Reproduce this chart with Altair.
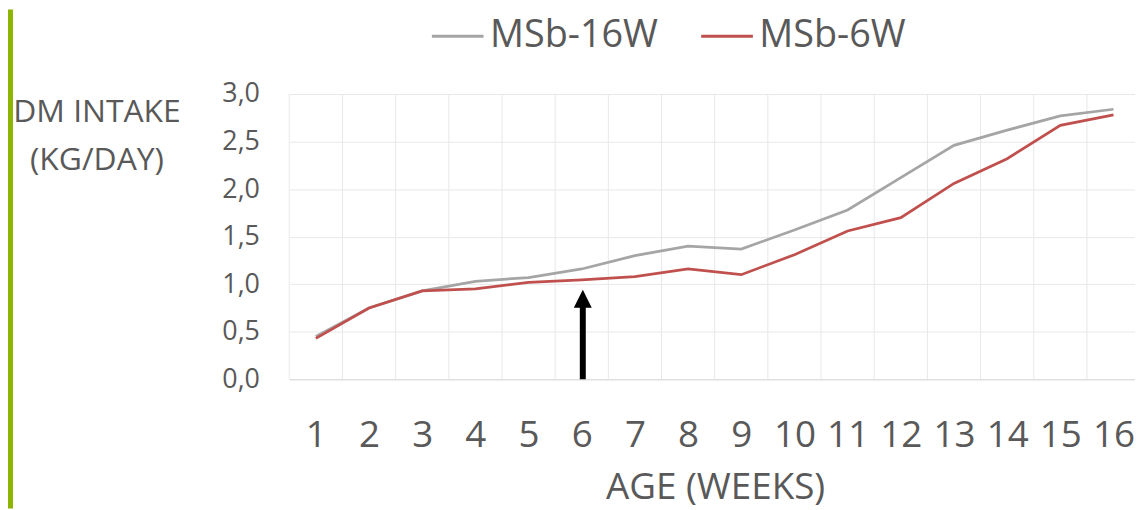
import altair as alt
import pandas as pd

# ---- data ----
weeks = list(range(1, 17))
msb_16w = [0.45, 0.75, 0.93, 1.03, 1.07, 1.16, 1.30, 1.40, 1.37, 1.57, 1.78, 2.12, 2.46, 2.62, 2.77, 2.84]
msb_6w = [0.43, 0.75, 0.93, 0.95, 1.02, 1.045, 1.08, 1.16, 1.10, 1.31, 1.56, 1.70, 2.06, 2.32, 2.67, 2.78]
series_names = ["MSb-16W", "MSb-6W"]
series_colors = ["#A5A5A5", "#C0504D"]
y_ticks = [0, 0.5, 1.0, 1.5, 2.0, 2.5, 3.0]
band_edges = [w - 0.5 for w in weeks]  # category boundaries (vertical gridlines)
arrow_week = [6.02]
arrow_base = [0.0]
arrow_shaft_top = [0.80]
arrow_head_mid = [0.846]

TEXT = "#595959"
GRID = "#e8e8e8"

rows = []
for name, vals in zip(series_names, [msb_16w, msb_6w]):
    for w, v in zip(weeks, vals):
        rows.append({"week": w, "value": v, "series": name})
df = pd.DataFrame(rows)

x_scale = alt.Scale(domain=[0.5, 16.404], nice=False, zero=False)
y_scale = alt.Scale(domain=[0, 3], nice=False)

grid = alt.Chart(pd.DataFrame({"gx": band_edges})).mark_rule(
    color=GRID, strokeWidth=1
).encode(x=alt.X("gx:Q", scale=x_scale))

lines = alt.Chart(df).mark_line(strokeWidth=2.75).encode(
    x=alt.X(
        "week:Q",
        scale=x_scale,
        axis=alt.Axis(
            values=weeks,
            grid=False,
            ticks=False,
            domainColor="#d9d9d9",
            labelFontSize=37,
            labelColor=TEXT,
            labelPadding=39,
            labelFlush=False,
            labelOverlap=False,
            title="AGE (WEEKS)",
            titleFontSize=37,
            titleFontWeight="normal",
            titleColor=TEXT,
            titleX=428.5,
            titleY=120,
            titleAlign="center",
            titleBaseline="alphabetic",
        ),
    ),
    y=alt.Y(
        "value:Q",
        scale=y_scale,
        axis=alt.Axis(
            values=y_ticks,
            labelExpr="replace(format(datum.value, '.1f'), '.', ',')",
            grid=True,
            gridColor=GRID,
            ticks=False,
            domain=False,
            labelFontSize=27,
            labelColor=TEXT,
            labelPadding=30,
            title=["DM INTAKE", "(KG/DAY)"],
            titleAngle=0,
            titleFontSize=32,
            titleFontWeight="normal",
            titleColor=TEXT,
            titleX=-194,
            titleY=18,
            titleAlign="center",
            titleBaseline="middle",
            titleLineHeight=47.5,
        ),
    ),
    color=alt.Color(
        "series:N",
        scale=alt.Scale(domain=series_names, range=series_colors),
        legend=alt.Legend(
            orient="none",
            legendX=142,
            legendY=-86,
            direction="horizontal",
            title=None,
            symbolType="stroke",
            symbolSize=2704,
            symbolStrokeWidth=3,
            labelFontSize=38,
            labelColor=TEXT,
            labelOffset=5,
            columnPadding=36,
            labelLimit=400,
            padding=0,
        ),
    ),
    order="week:Q",
)

arrow_df = pd.DataFrame(
    {"week": arrow_week, "y0": arrow_base, "y1": arrow_shaft_top, "yh": arrow_head_mid}
)
shaft = alt.Chart(arrow_df).mark_rule(strokeWidth=6, color="black").encode(
    x=alt.X("week:Q", scale=x_scale), y=alt.Y("y0:Q", scale=y_scale), y2="y1:Q"
)
head = alt.Chart(arrow_df).mark_point(
    shape="M-1,1L0,-1L1,1Z", size=324, filled=True, color="black", opacity=1
).encode(x=alt.X("week:Q", scale=x_scale), y=alt.Y("yh:Q", scale=y_scale))

green_bar = alt.Chart(pd.DataFrame({"a": [0]})).mark_rect(color="#8DB400").encode(
    x=alt.value(-283), x2=alt.value(-278), y=alt.value(-85), y2=alt.value(417)
)

chart = (
    alt.layer(grid, lines, shaft, head, green_bar)
    .properties(
        width=851,
        height=287,
        autosize=alt.AutoSizeParams(type="none"),
        padding={"left": 283, "top": 85, "right": 0, "bottom": 130},
    )
    .configure(font="Open Sans")
    .configure_view(stroke=None)
)

chart.save("out.html", embed_options={"renderer": "svg", "actions": False})
